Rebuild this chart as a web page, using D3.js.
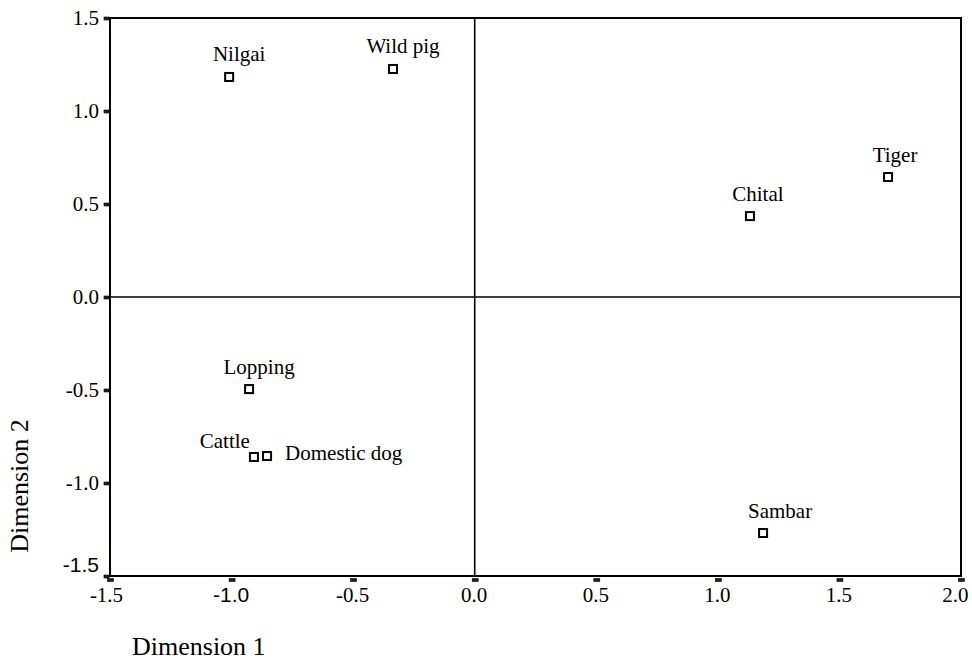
<!DOCTYPE html>
<html>
<head>
<meta charset="utf-8">
<script src="https://cdn.jsdelivr.net/npm/d3@7"></script>
<style>
  html, body { margin: 0; padding: 0; background: #fff; }
  svg { display: block; }
</style>
</head>
<body>
<svg id="chart" width="972" height="661"></svg>
<script>
// Category scores on the first two dimensions
const categories = ["Nilgai", "Wild pig", "Chital", "Tiger", "Lopping", "Cattle", "Domestic dog", "Sambar"];
const dim1 = [-1.01, -0.336, 1.132, 1.70, -0.928, -0.908, -0.854, 1.186];
const dim2 = [1.183, 1.226, 0.435, 0.645, -0.495, -0.860, -0.855, -1.269];

const xTicks = [-1.5, -1.0, -0.5, 0.0, 0.5, 1.0, 1.5, 2.0];
const yTicks = [-1.5, -1.0, -0.5, 0.0, 0.5, 1.0, 1.5];

// Label placement around each marker
const labelLayout = {
  default: { anchor: "middle", dx: 10, dy: -15.5 },
  "Chital": { anchor: "middle", dx: 8, dy: -15.5 },
  "Tiger": { anchor: "middle", dx: 7, dy: -15.5 },
  "Sambar": { anchor: "middle", dx: 17, dy: -15.5 },
  "Cattle": { anchor: "end", dx: -4, dy: -9 },
  "Domestic dog": { anchor: "start", dx: 18, dy: 4 }
};

const serif = "'Liberation Serif', 'Times New Roman', serif";
const sans = "'Liberation Sans', Arial, sans-serif";

const svg = d3.select("#chart");
const plot = { left: 110, right: 961, top: 18, bottom: 576 };

const x = d3.scaleLinear().domain([-1.5, 2.0]).range([plot.left, plot.right]);
const y = d3.scaleLinear().domain([-1.5, 1.5]).range([plot.bottom, plot.top]);

// Reference lines through the origin
svg.append("line")
  .attr("x1", x(0)).attr("x2", x(0))
  .attr("y1", plot.top).attr("y2", plot.bottom)
  .attr("stroke", "#000").attr("stroke-width", 1.6);
svg.append("line")
  .attr("x1", plot.left).attr("x2", plot.right)
  .attr("y1", y(0)).attr("y2", y(0))
  .attr("stroke", "#000").attr("stroke-width", 1.6);

// Plot frame
svg.append("rect")
  .attr("x", plot.left).attr("y", plot.top)
  .attr("width", plot.right - plot.left).attr("height", plot.bottom - plot.top)
  .attr("fill", "none").attr("stroke", "#000").attr("stroke-width", 2);

// Plain hyphen for negatives
const fmt = d => d.toFixed(1);

// Y axis: labels plus small block tick marks
const gy = svg.append("g")
  .attr("transform", `translate(${plot.left},0)`)
  .call(d3.axisLeft(y).tickValues(yTicks).tickSize(0).tickPadding(11).tickFormat(fmt));
gy.select(".domain").remove();
gy.selectAll(".tick text")
  .attr("fill", "#000")
  .style("font-size", "21px")
  .style("font-family", d => d === -1.5 ? sans : serif)
  .attr("y", d => d === -1.5 ? -11 : 0);
gy.selectAll(".tick").append("rect")
  .attr("x", -6).attr("y", -1.5).attr("width", 5).attr("height", 3)
  .attr("fill", "#222").attr("stroke", "#000").attr("stroke-width", 0.6);

// X axis
const gx = svg.append("g")
  .attr("transform", `translate(0,${plot.bottom})`)
  .call(d3.axisBottom(x).tickValues(xTicks).tickSize(0).tickPadding(11).tickFormat(fmt));
gx.select(".domain").remove();
gx.selectAll(".tick text")
  .attr("fill", "#000")
  .style("font-size", "21px")
  .style("font-family", d => d === -1.0 ? sans : serif)
  .attr("text-anchor", d => d === 2.0 ? "end" : "middle")
  .attr("x", d => d === 2.0 ? 7 : (d === -1.5 ? -4 : -1));
gx.selectAll(".tick").append("rect")
  .attr("x", -3).attr("y", 2.5).attr("width", 6).attr("height", 3)
  .attr("fill", "#222").attr("stroke", "#000").attr("stroke-width", 0.6);

// Axis titles
svg.append("text")
  .attr("x", 132).attr("y", 655)
  .style("font-family", serif).style("font-size", "26px")
  .attr("fill", "#000")
  .text("Dimension 1");
svg.append("text")
  .attr("transform", "translate(28,486) rotate(-90)")
  .attr("text-anchor", "middle")
  .style("font-family", serif).style("font-size", "26px")
  .attr("fill", "#000")
  .text("Dimension 2");

// Markers and labels
const points = categories.map((c, i) => ({ name: c, d1: dim1[i], d2: dim2[i] }));

const g = svg.append("g");
g.selectAll("rect.pt").data(points).join("rect")
  .attr("class", "pt")
  .attr("x", d => x(d.d1) - 4).attr("y", d => y(d.d2) - 4)
  .attr("width", 8).attr("height", 8)
  .attr("fill", "#fff").attr("stroke", "#000").attr("stroke-width", 2);

g.selectAll("text.lbl").data(points).join("text")
  .attr("class", "lbl")
  .each(function (d) {
    const l = labelLayout[d.name] || labelLayout.default;
    d3.select(this)
      .attr("x", x(d.d1) + l.dx)
      .attr("y", y(d.d2) + l.dy)
      .attr("text-anchor", l.anchor);
  })
  .style("font-family", serif).style("font-size", "21px")
  .attr("fill", "#000")
  .text(d => d.name);
</script>
</body>
</html>
